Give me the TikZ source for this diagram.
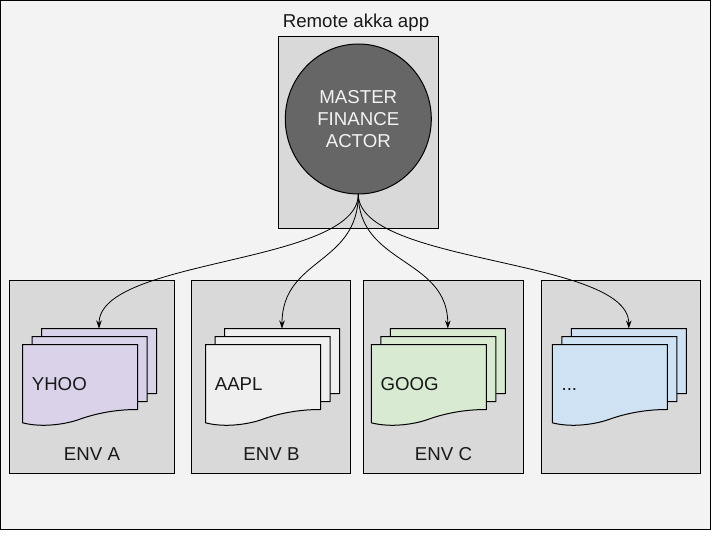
\documentclass[tikz,border=0pt]{standalone}
\usepackage{fontspec}
\setmainfont{Liberation Sans}
\usetikzlibrary{shapes.geometric,arrows.meta}
\definecolor{appbg}{HTML}{F3F3F3}
\definecolor{envbg}{HTML}{D9D9D9}
\definecolor{masterbg}{HTML}{666666}
\definecolor{sheeta}{HTML}{D9D2E9}
\definecolor{sheetb}{HTML}{EFEFEF}
\definecolor{sheetc}{HTML}{D9EAD3}
\definecolor{sheetd}{HTML}{CFE2F3}
\newcommand{\moredots}{...}
\begin{document}
\begin{tikzpicture}
[x=1pt,y=-1pt,line width=1pt,
every node/.style={font=\fontsize{18.67}{22}\selectfont,text=black!90},
box/.style={rectangle,draw=black,fill=envbg,anchor=north west,inner sep=0pt,outer sep=0pt},
master/.style={ellipse,draw=black,fill=masterbg,text=appbg,align=center,minimum width=146pt,minimum height=150pt,inner sep=0pt,outer sep=0pt},
sheet/.style={rectangle,anchor=north west,minimum width=115pt,minimum height=65pt,inner sep=0pt,outer sep=0pt},
ticker/.style={anchor=base west,inner sep=0pt},
envname/.style={anchor=base,inner sep=0pt},
flow/.style={-{Stealth[length=8pt,width=5.5pt]},line width=0.8pt}]
\useasboundingbox (0,0) rectangle (720,540);
\node[box,fill=appbg,minimum width=710pt,minimum height=529pt] (frame) at (0.5,0.5) {};
\node[anchor=base,inner sep=0pt] (title) at (356,27.3) {Remote akka app};
\node[box,minimum width=160pt,minimum height=192pt] (remote) at (278.5,36.5) {};
\node[master] (finance) at (358.3,119) {MASTER\\FINANCE\\ACTOR};
% environments
\foreach \env/\x/\w in {enva/9.5/165,envb/191.5/159,envc/363.5/160,envd/541.5/159}
{
	\node[box,minimum width=\w pt,minimum height=193pt] (\env) at (\x,280.5) {};
}
\node[envname] (namea) at (92,460) {ENV A};
\node[envname] (nameb) at (271.5,460) {ENV B};
\node[envname] (namec) at (443.5,460) {ENV C};
% stacks of sheets
\foreach \doc/\x/\col/\stock in {yhoo/22.5/sheeta/YHOO,aapl/205.5/sheetb/AAPL,goog/371.3/sheetc/GOOG,more/552.3/sheetd/\moredots}
{
	\foreach \i/\dx/\dy in {3/19/-16,2/9.5/-8,1/0/0}
	{
		\node[sheet] (\doc\i) at (\x+\dx,344.5+\dy) {};
		\draw[fill=\col,line join=miter,shift={(\x+\dx,344.5+\dy)}] (0,0) -- (115,0) -- (115,65)
			.. controls (90,65) and (70,70) .. (55,75.5)
			.. controls (43,79.5) and (20,83.5) .. (0,78.3) -- cycle;
	}
	\node[ticker] (\doc label) at (\x+8.8,390) {\stock};
}
% connectors
\foreach \doc in {yhoo,aapl,goog,more}
{
	\draw[flow] (finance.south) .. controls +(0,71) and +(0,-71) .. (\doc3.north);
}
\end{tikzpicture}
\end{document}
